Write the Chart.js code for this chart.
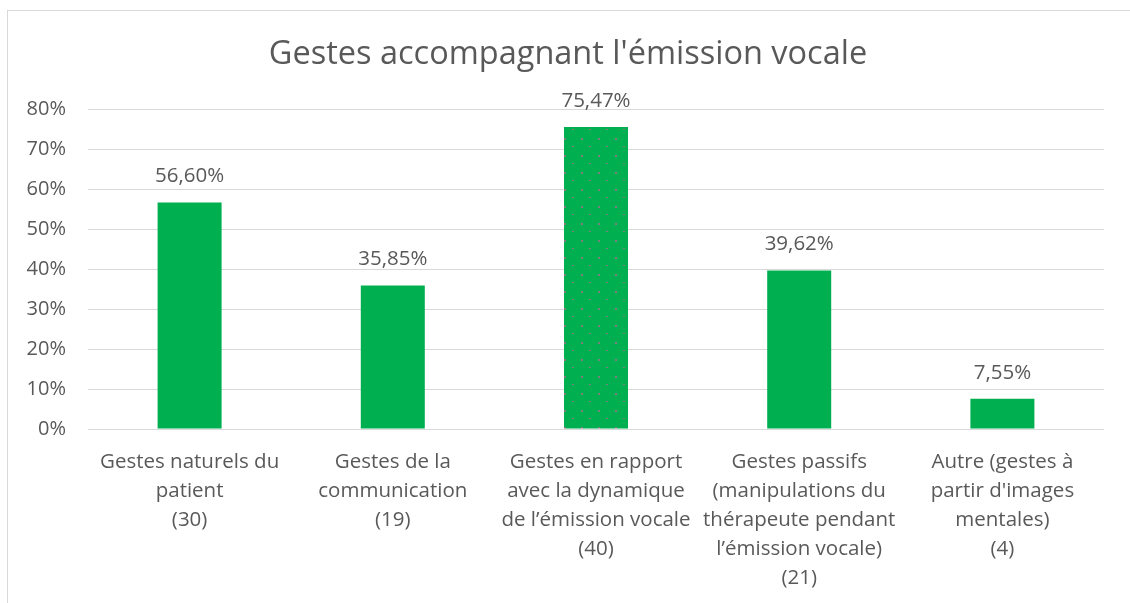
<!DOCTYPE html>
<html><head><meta charset="utf-8">
<script src="https://cdn.jsdelivr.net/npm/chart.js@4.4.1/dist/chart.umd.min.js"></script>
<style>
html,body{margin:0;padding:0;background:#fff;}
#wrap{position:relative;width:1130px;height:603px;}
</style></head>
<body><div id="wrap"><canvas id="c" width="1130" height="603"></canvas></div>
<script>
const chartTitle = "Gestes accompagnant l'émission vocale";
const categories = [
  ["Gestes naturels du", "patient", "(30)"],
  ["Gestes de la", "communication", "(19)"],
  ["Gestes en rapport", "avec la dynamique", "de l’émission vocale", "(40)"],
  ["Gestes passifs", "(manipulations du", "thérapeute pendant", "l’émission vocale)", "(21)"],
  ["Autre (gestes à", "partir d'images", "mentales)", "(4)"]
];
const values = [56.60, 35.85, 75.47, 39.62, 7.55];
const valueLabels = ["56,60%", "35,85%", "75,47%", "39,62%", "7,55%"];
const yTicks = [0, 10, 20, 30, 40, 50, 60, 70, 80];

const FONT = "'Open Sans', sans-serif";
const TXT = "#595959";
const GREEN = "#00B050";

function dotPattern() {
  const t = document.createElement('canvas');
  t.width = 17; t.height = 17;
  const g = t.getContext('2d');
  g.fillStyle = GREEN; g.fillRect(0, 0, 17, 17);
  g.fillStyle = "#7f7f7f";
  g.fillRect(3, 2, 2, 2);
  g.fillRect(11, 10, 2, 1);
  return g.createPattern(t, 'repeat');
}
const colors = values.map((v, i) => i === 2 ? dotPattern() : GREEN);

const framePlugin = {
  id: 'frame',
  beforeDraw(chart) {
    const ctx = chart.ctx;
    ctx.save();
    ctx.strokeStyle = "#d9d9d9";
    ctx.lineWidth = 1;
    ctx.strokeRect(7.5, 10.5, 1140, 620);
    ctx.font = "32.5px " + FONT;
    ctx.fillStyle = TXT;
    ctx.textAlign = 'center';
    ctx.textBaseline = 'middle';
    ctx.fillText(chartTitle, 568, 55);
    ctx.restore();
  }
};
const labelPlugin = {
  id: 'vlabels',
  afterDatasetsDraw(chart) {
    const ctx = chart.ctx;
    const meta = chart.getDatasetMeta(0);
    ctx.save();
    ctx.font = "20.5px " + FONT;
    ctx.fillStyle = TXT;
    ctx.textAlign = 'center';
    ctx.textBaseline = 'middle';
    meta.data.forEach((bar, i) => {
      ctx.fillText(valueLabels[i], bar.x, bar.y - 26);
    });
    ctx.restore();
  }
};

new Chart(document.getElementById('c'), {
  type: 'bar',
  data: {
    labels: categories,
    datasets: [{
      data: values,
      backgroundColor: colors,
      borderWidth: 0,
      barPercentage: 0.63,
      categoryPercentage: 0.5
    }]
  },
  options: {
    responsive: false,
    animation: false,
    devicePixelRatio: 1,
    layout: { padding: { left: 0, right: 26, top: 109, bottom: 0 } },
    plugins: {
      legend: { display: false },
      tooltip: { enabled: false },
      title: { display: false }
    },
    scales: {
      y: {
        min: 0, max: 80,
        afterFit(s) { s.width = 88; },
        afterBuildTicks(s) { s.ticks = yTicks.map(v => ({ value: v })); },
        ticks: {
          padding: 22,
          color: TXT,
          font: { family: FONT, size: 20 },
          callback: v => v + "%"
        },
        grid: { color: "#d9d9d9", lineWidth: 1, drawTicks: false },
        border: { display: false }
      },
      x: {
        afterFit(s) { s.height = 174; },
        ticks: {
          padding: 19,
          color: TXT,
          maxRotation: 0,
          autoSkip: false,
          font: { family: FONT, size: 20.5, lineHeight: 1.41 }
        },
        grid: { display: false, drawTicks: false },
        border: { display: false }
      }
    }
  },
  plugins: [framePlugin, labelPlugin]
});
</script></body></html>
